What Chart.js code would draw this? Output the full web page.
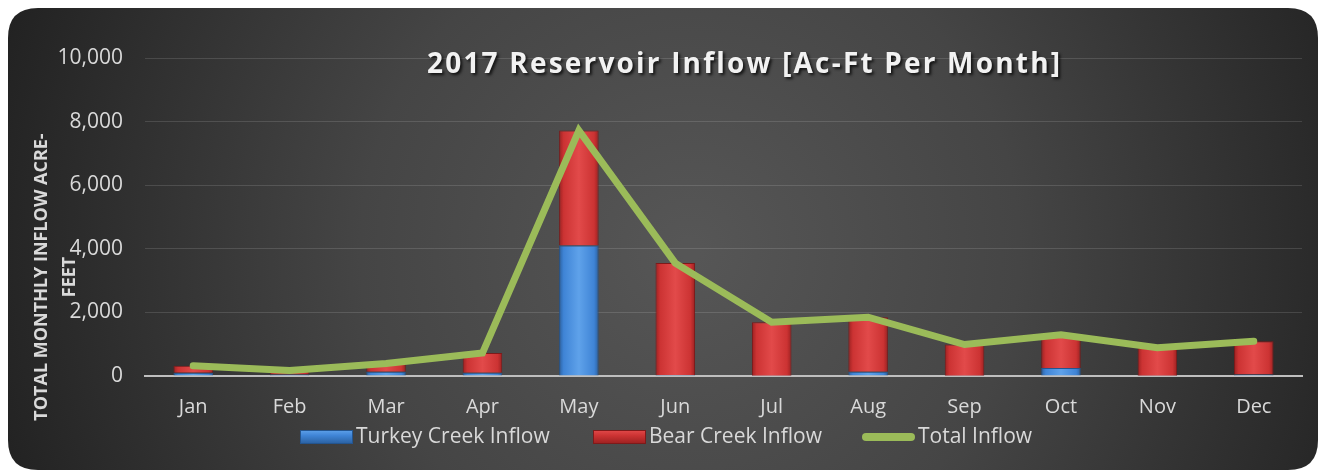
<!DOCTYPE html>
<html><head><meta charset="utf-8">
<script src="https://cdn.jsdelivr.net/npm/chart.js@4"></script>
<style>html,body{margin:0;padding:0;background:#fff;}#wrap{width:1322px;height:473px;}</style>
</head><body><div id="wrap"><canvas id="c" width="1322" height="473"></canvas></div>
<script>
const categories = ['Jan','Feb','Mar','Apr','May','Jun','Jul','Aug','Sep','Oct','Nov','Dec'];
const turkeyCreek = [100, 50, 130, 100, 4100, 30, 10, 130, 10, 250, 10, 50];
const bearCreek   = [220, 120, 260, 620, 3620, 3520, 1680, 1720, 980, 1050, 880, 1040];
const totalInflow = [320, 170, 390, 720, 7720, 3550, 1690, 1850, 990, 1300, 890, 1090];
const yTicks = [0, 2000, 4000, 6000, 8000, 10000];
const chartTitle = '2017 Reservoir Inflow [Ac-Ft Per Month]';
const yTitle = ['TOTAL MONTHLY INFLOW ACRE-', 'FEET'];

const FONT = '"Open Sans", sans-serif';
const COLORS = {
  turkey: { base: '#3f84d6', light: '#5fa2ea', dark: '#2a5f9e', border: '#24558f' },
  bear:   { base: '#cc3333', light: '#e24a4a', dark: '#9a2020', border: '#7e1a1a' },
  total:  '#9bbb59'
};

function roundRect(ctx, x, y, w, h, r) {
  ctx.beginPath();
  ctx.moveTo(x + r, y);
  ctx.lineTo(x + w - r, y);
  ctx.quadraticCurveTo(x + w, y, x + w, y + r);
  ctx.lineTo(x + w, y + h - r);
  ctx.quadraticCurveTo(x + w, y + h, x + w - r, y + h);
  ctx.lineTo(x + r, y + h);
  ctx.quadraticCurveTo(x, y + h, x, y + h - r);
  ctx.lineTo(x, y + r);
  ctx.quadraticCurveTo(x, y, x + r, y);
  ctx.closePath();
}

const bgPlugin = {
  id: 'bg',
  beforeDraw(chart) {
    const ctx = chart.ctx;
    ctx.save();
    roundRect(ctx, 8, 8, 1310, 462, 30);
    const g = ctx.createRadialGradient(690, 250, 10, 690, 250, 720);
    g.addColorStop(0, '#565656');
    g.addColorStop(0.45, '#454545');
    g.addColorStop(1, '#222222');
    ctx.fillStyle = g;
    ctx.fill();
    ctx.restore();
  },
  afterDraw(chart) {
    const ctx = chart.ctx;
    // title
    ctx.save();
    ctx.font = 'bold 28px ' + FONT;
    ctx.letterSpacing = '0px';
    const w0 = ctx.measureText(chartTitle).width;
    const sp = (633 - w0) / (chartTitle.length - 1);
    ctx.letterSpacing = sp.toFixed(2) + 'px';
    ctx.textAlign = 'left';
    ctx.textBaseline = 'alphabetic';
    ctx.shadowColor = 'rgba(0,0,0,0.75)';
    ctx.shadowOffsetX = 2; ctx.shadowOffsetY = 2; ctx.shadowBlur = 3;
    ctx.fillStyle = '#f2f2f2';
    ctx.fillText(chartTitle, 427, 73);
    ctx.restore();
    // y title
    ctx.save();
    ctx.font = 'bold 18px ' + FONT;
    ctx.fillStyle = '#d9d9d9';
    ctx.textAlign = 'center';
    ctx.textBaseline = 'middle';
    ctx.translate(42, 277);
    ctx.rotate(-Math.PI / 2);
    ctx.fillText(yTitle[0], 0, 0);
    ctx.fillText(yTitle[1], 0, 28);
    ctx.restore();
    // legend
    const items = chart.data.datasets.map((d, i) => ({ text: d.label, i }));
    const xs = [300, 593, 862];
    const BW = 53;
    ctx.save();
    ctx.font = '21px ' + FONT;
    items.forEach((it, k) => {
      const x = xs[k];
      const ds = chart.data.datasets[it.i];
      if (ds.type === 'line') {
        ctx.strokeStyle = COLORS.total;
        ctx.lineWidth = 8;
        ctx.lineCap = 'round';
        ctx.beginPath();
        ctx.moveTo(x + 4, 437);
        ctx.lineTo(x + BW - 4, 437);
        ctx.stroke();
      } else {
        const c = k === 0 ? COLORS.turkey : COLORS.bear;
        const g = ctx.createLinearGradient(0, 430, 0, 444);
        g.addColorStop(0, c.light);
        g.addColorStop(0.4, c.base);
        g.addColorStop(1, c.dark);
        ctx.fillStyle = g;
        ctx.fillRect(x, 430, BW, 14);
        ctx.strokeStyle = c.border;
        ctx.lineWidth = 1;
        ctx.strokeRect(x + 0.5, 430.5, BW - 1, 13);
      }
      ctx.fillStyle = '#d9d9d9';
      ctx.textBaseline = 'middle';
      ctx.textAlign = 'left';
      ctx.fillText(it.text, x + BW + 3, 437);
    });
    ctx.restore();
  }
};

function barGrad(c) {
  return function(context) {
    const chart = context.chart;
    const xs = chart.scales && chart.scales.x;
    if (!chart.chartArea || !xs || context.dataIndex === undefined) return c.base;
    const cx = xs.getPixelForValue(context.dataIndex);
    if (!isFinite(cx)) return c.base;
    const g = chart.ctx.createLinearGradient(cx - 20, 0, cx + 20, 0);
    g.addColorStop(0, c.dark);
    g.addColorStop(0.12, c.base);
    g.addColorStop(0.5, c.light);
    g.addColorStop(0.88, c.base);
    g.addColorStop(1, c.dark);
    return g;
  };
}

new Chart(document.getElementById('c'), {
  data: {
    labels: categories,
    datasets: [
      { type: 'bar', label: 'Turkey Creek Inflow', data: turkeyCreek, stack: 's',
        backgroundColor: barGrad(COLORS.turkey), borderColor: COLORS.turkey.border, borderWidth: 1, order: 1 },
      { type: 'bar', label: 'Bear Creek Inflow', data: bearCreek, stack: 's',
        backgroundColor: barGrad(COLORS.bear), borderColor: COLORS.bear.border, borderWidth: 1, order: 1 },
      { type: 'line', label: 'Total Inflow', data: totalInflow, borderColor: COLORS.total, backgroundColor: COLORS.total,
        borderWidth: 7, pointRadius: 0, tension: 0, order: 0, borderCapStyle: 'round', borderJoinStyle: 'miter' }
    ]
  },
  options: {
    responsive: false,
    animation: false,
    layout: { padding: { left: 0, right: 20, top: 58, bottom: 35 } },
    datasets: { bar: { barPercentage: 0.82, categoryPercentage: 0.5 } },
    scales: {
      x: {
        stacked: true,
        grid: { display: false, drawTicks: false },
        border: { display: true, color: '#bfbfbf', width: 2 },
        ticks: { color: '#d9d9d9', font: { family: FONT, size: 20 }, padding: 19 }
      },
      y: {
        stacked: true,
        min: 0, max: 10000,
        afterFit(scale) { scale.width = 145; },
        afterBuildTicks(scale) { scale.ticks = yTicks.map(v => ({ value: v })); },
        grid: { color: 'rgba(255,255,255,0.13)', lineWidth: 1, drawTicks: false },
        border: { display: false },
        ticks: { color: '#d9d9d9', font: { family: FONT, size: 21 }, padding: 22,
          callback: v => v.toLocaleString('en-US') }
      }
    },
    plugins: {
      legend: { display: false },
      tooltip: { enabled: false }
    }
  },
  plugins: [bgPlugin]
});
</script></body></html>
